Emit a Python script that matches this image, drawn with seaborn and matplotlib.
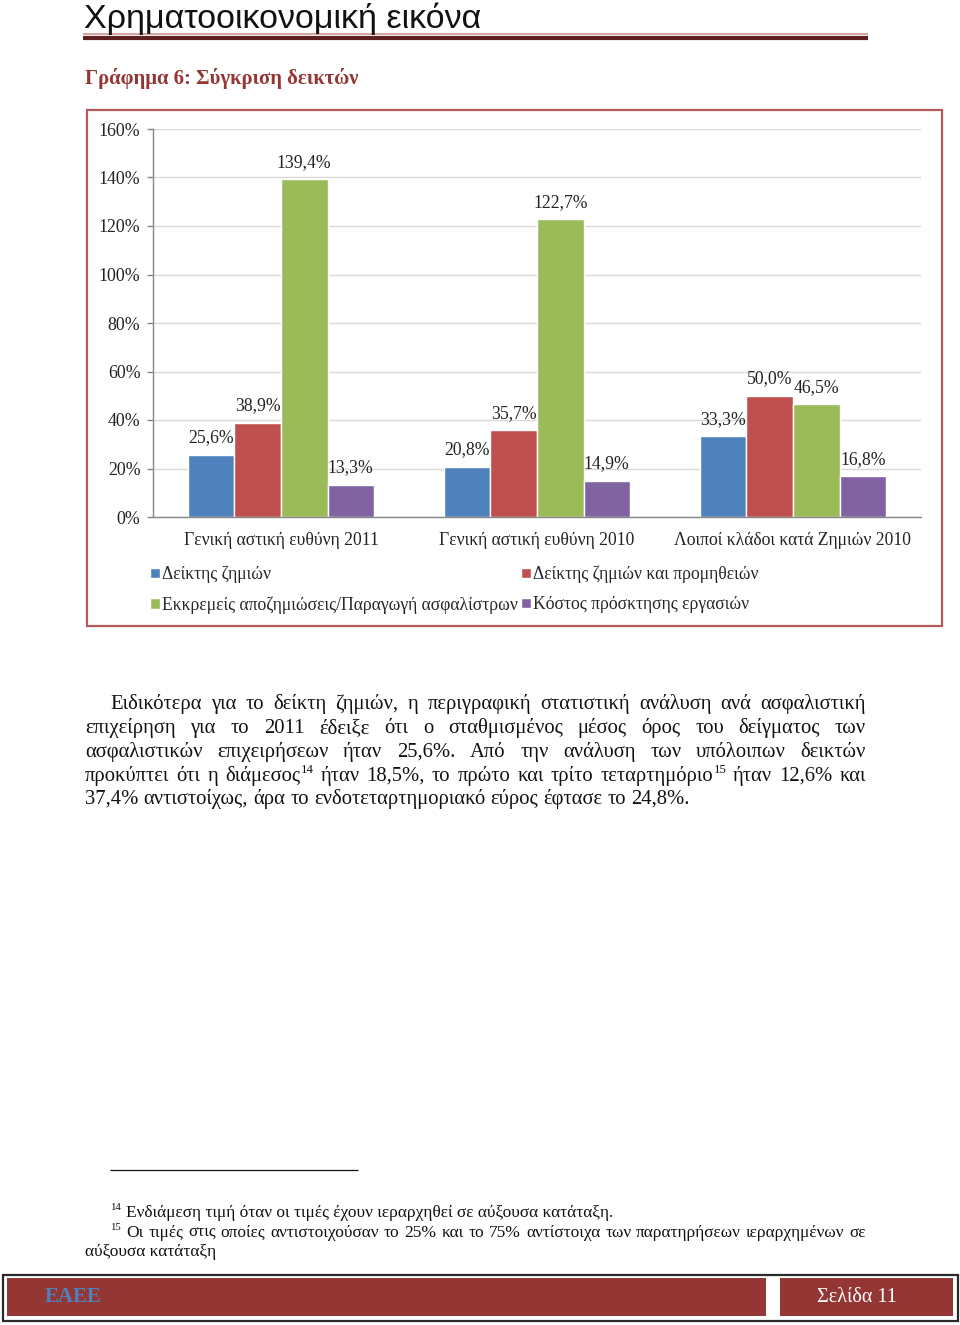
import matplotlib
matplotlib.use("Agg")
import matplotlib.pyplot as plt
from matplotlib.patches import Rectangle
from matplotlib.lines import Line2D
import seaborn as sns
import pandas as pd

# ---------------- data ----------------
categories = ["Γενική αστική ευθύνη 2011", "Γενική αστική ευθύνη 2010",
              "Λοιποί κλάδοι κατά Ζημιών 2010"]
series = ["Δείκτης ζημιών", "Δείκτης ζημιών και προμηθειών",
          "Εκκρεμείς αποζημιώσεις/Παραγωγή ασφαλίστρων",
          "Κόστος πρόσκτησης εργασιών"]
loss_ratio = [25.6, 20.8, 33.3]
loss_comm_ratio = [38.9, 35.7, 50.0]
pending_ratio = [139.4, 122.7, 46.5]
acq_cost = [13.3, 14.9, 16.8]
y_ticks = [0, 20, 40, 60, 80, 100, 120, 140, 160]
colors = ["#4f81bd", "#c0504d", "#9bbb59", "#8064a2"]

page_title = "Χρηματοοικονομική εικόνα"
chart_title = "Γράφημα 6: Σύγκριση δεικτών"
paragraph = [
    ["Ειδικότερα", "για", "το", "δείκτη", "ζημιών,", "η", "περιγραφική", "στατιστική",
     "ανάλυση", "ανά", "ασφαλιστική"],
    ["επιχείρηση", "για", "το", "2011", "έδειξε", "ότι", "ο", "σταθμισμένος", "μέσος",
     "όρος", "του", "δείγματος", "των"],
    ["ασφαλιστικών", "επιχειρήσεων", "ήταν", "25,6%.", "Από", "την", "ανάλυση", "των",
     "υπόλοιπων", "δεικτών"],
    ["προκύπτει", "ότι", "η", ("διάμεσος", "14"), "ήταν", "18,5%,", "το", "πρώτο", "και",
     "τρίτο", ("τεταρτημόριο", "15"), "ήταν", "12,6%", "και"],
    ["37,4%", "αντιστοίχως,", "άρα", "το", "ενδοτεταρτημοριακό", "εύρος", "έφτασε",
     "το", "24,8%."],
]
footnote14 = "Ενδιάμεση τιμή όταν οι τιμές έχουν ιεραρχηθεί σε αύξουσα κατάταξη."
footnote15 = ["Οι", "τιμές", "στις", "οποίες", "αντιστοιχούσαν", "το", "25%", "και", "το",
              "75%", "αντίστοιχα", "των", "παρατηρήσεων", "ιεραρχημένων", "σε"]
footnote15_cont = "αύξουσα κατάταξη"
footer_left = "ΕΑΕΕ"
footer_right = "Σελίδα 11"

# ---------------- setup ----------------
sns.set_theme(style="white")
SERIF = ["Liberation Serif", "DejaVu Serif"]
plt.rcParams["font.family"] = SERIF

W, H = 960, 1325
fig = plt.figure(figsize=(W / 100, H / 100), dpi=100)
fig.patch.set_facecolor("white")


def fx(x):
    return x / W


def fy(y):
    return 1 - y / H


def hline(x0, x1, y, color, lw):
    fig.add_artist(Line2D([fx(x0), fx(x1)], [fy(y), fy(y)], color=color, lw=lw,
                          transform=fig.transFigure, solid_capstyle="butt"))


def rect(x0, y0, x1, y1, fc="none", ec="none", lw=1.0):
    fig.add_artist(Rectangle((fx(x0), fy(y1)), fx(x1) - fx(x0), fy(y0) - fy(y1),
                             facecolor=fc, edgecolor=ec, lw=lw, transform=fig.transFigure))


# ---------------- header ----------------
fig.text(fx(84), fy(28), page_title, family=["Liberation Sans", "DejaVu Sans"], fontsize=24.5,
         color="#111111", ha="left", va="baseline")
hline(83, 868, 34.3, "#d09090", 1.2)
hline(83, 868, 38.3, "#5e1f1f", 3.0)
fig.text(fx(85), fy(84), chart_title, fontsize=14.9, fontweight="bold",
         color="#943634", ha="left", va="baseline")

# chart frame
rect(87, 110, 942, 626, ec="#b55a5d", lw=1.6)

# ---------------- chart ----------------
ax = fig.add_axes([fx(153), fy(517), fx(921) - fx(153), fy(129) - fy(517)])
df = pd.DataFrame({
    "cat": categories * 4,
    "series": [series[0]] * 3 + [series[1]] * 3 + [series[2]] * 3 + [series[3]] * 3,
    "value": loss_ratio + loss_comm_ratio + pending_ratio + acq_cost,
})
sns.barplot(data=df, x="cat", y="value", hue="series", order=categories,
            hue_order=series, palette=colors, width=0.727, gap=0,
            saturation=1, ax=ax, legend=True)
ax.set_ylim(0, 160)
ax.set_xlim(-0.5, 2.5)
ax.set_yticks(y_ticks)
ax.set_yticklabels([f"{t}%" for t in y_ticks], fontsize=12.9)
ax.set_xticks(range(len(categories)))
ax.set_xticklabels(categories, fontsize=12.7)
ax.set_xticks([-0.5, 0.5, 1.5, 2.5], minor=True)
ax.tick_params(axis="x", which="major", length=0, pad=11, colors="#222222")
ax.tick_params(axis="x", which="minor", length=5, width=1, color="#868686", direction="out")
ax.tick_params(axis="y", length=4, width=1, color="#868686", direction="out", pad=5,
               left=True, colors="#222222")
ax.tick_params(axis="y", which="major", color="#868686")
ax.set_xlabel("")
ax.set_ylabel("")
ax.set_axisbelow(True)
ax.yaxis.grid(True, color="#d9d9d9", lw=1)
ax.xaxis.grid(False)
for s in ["top", "right"]:
    ax.spines[s].set_visible(False)
for s in ["left", "bottom"]:
    ax.spines[s].set_color("#868686")
    ax.spines[s].set_linewidth(1)

vals = [loss_ratio, loss_comm_ratio, pending_ratio, acq_cost]
for cont, v in zip(ax.containers, vals):
    ax.bar_label(cont, labels=[f"{x:.1f}%".replace(".", ",") for x in v],
                 padding=6, fontsize=12.7, color="#222222")

handles, labels = ax.get_legend_handles_labels()
ax.get_legend().remove()
order = [0, 2, 1, 3]
fig.legend([handles[i] for i in order], [labels[i] for i in order],
           loc="upper left", bbox_to_anchor=(fx(150), fy(566)), ncol=2,
           frameon=False, fontsize=12.7, handlelength=0.55, handleheight=0.55,
           handletextpad=0.12, columnspacing=0.2, labelspacing=0.72, borderpad=0,
           borderaxespad=0)

# ---------------- body text ----------------
renderer = fig.canvas.get_renderer()


def text_width(s, size, weight="normal"):
    t = fig.text(0, 0, s, fontsize=size, fontweight=weight)
    w = t.get_window_extent(renderer).width
    t.remove()
    return w


def draw_words(tokens, x0, x1, base, size, justify=True, color="#111111"):
    sup_size = size * 0.62
    items = []
    for tok in tokens:
        if isinstance(tok, tuple):
            word, sup = tok
        else:
            word, sup = tok, None
        w = text_width(word, size)
        sw = text_width(sup, sup_size) if sup else 0.0
        items.append((word, sup, w, sw))
    total = sum(w + sw for _, _, w, sw in items)
    space = size * 100 / 72 * 0.25
    if justify and len(items) > 1:
        space = (x1 - x0 - total) / (len(items) - 1)
    x = x0
    for word, sup, w, sw in items:
        fig.text(fx(x), fy(base), word, fontsize=size, ha="left", va="baseline", color=color)
        if sup:
            fig.text(fx(x + w + 0.5), fy(base - size * 100 / 72 * 0.38), sup,
                     fontsize=sup_size, ha="left", va="baseline", color=color)
        x += w + sw + space


BODY = 14.9
bases = [709, 733, 757, 781, 804]
starts = [110, 85, 85, 85, 85]
for i, (line, b, s) in enumerate(zip(paragraph, bases, starts)):
    draw_words(line, s, 866, b, BODY, justify=(i < len(paragraph) - 1))

# ---------------- footnotes ----------------
hline(110, 358, 1170, "#111111", 0.9)
FN = 12.5
fig.text(fx(110), fy(1210), "14", fontsize=FN * 0.62, ha="left", va="baseline", color="#111111")
fig.text(fx(126), fy(1217), footnote14, fontsize=FN, ha="left", va="baseline", color="#111111")
fig.text(fx(110), fy(1230), "15", fontsize=FN * 0.62, ha="left", va="baseline", color="#111111")
draw_words(footnote15, 126, 866, 1237, FN, justify=True)
fig.text(fx(85), fy(1256), footnote15_cont, fontsize=FN, ha="left", va="baseline", color="#111111")

# ---------------- footer ----------------
rect(2.5, 1274.5, 957.5, 1321, ec="#2a2a2a", lw=1.6)
rect(7, 1278, 766, 1316, fc="#943634")
rect(780, 1278, 953, 1316, fc="#943634")
fig.text(fx(45), fy(1297), footer_left, fontsize=15, fontweight="bold",
         color="#4f81bd", ha="left", va="center")
fig.text(fx(817), fy(1297), footer_right, fontsize=14.5, color="white",
         ha="left", va="center")

fig.savefig("out.png", dpi=100)
